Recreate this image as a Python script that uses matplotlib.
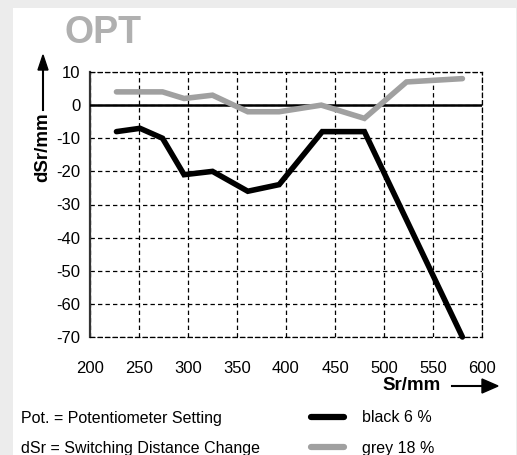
import matplotlib.pyplot as plt
from matplotlib.patches import Rectangle

plt.rcParams['font.family'] = ['Liberation Sans', 'DejaVu Sans']
plt.rcParams['axes.unicode_minus'] = False

sr_black = [227, 251, 274, 296, 325, 361, 393, 437, 480, 580]
dsr_black = [-8, -7, -10, -21, -20, -26, -24, -8, -8, -70]
sr_grey = [227, 251, 274, 296, 325, 361, 393, 436, 480, 523, 580]
dsr_grey = [4, 4, 4, 2, 3, -2, -2, 0, -4, 7, 8]

x_ticks = [200, 250, 300, 350, 400, 450, 500, 550, 600]
y_ticks = [10, 0, -10, -20, -30, -40, -50, -60, -70]

W, H = 517, 455


def fx(px):
    return px / W


def fy(py):
    return 1 - py / H


fig = plt.figure(figsize=(W / 100, H / 100), dpi=100)
fig.patch.set_facecolor('#ececec')
fig.patches.append(Rectangle((fx(13), 0), fx(503), 447 / H,
                             transform=fig.transFigure, facecolor='white',
                             edgecolor='none', zorder=0))

ax = fig.add_axes([fx(90), fy(337), fx(392), 265 / H])
ax.set_zorder(2)
ax.patch.set_alpha(0)
ax.set_xlim(200, 600)
ax.set_ylim(-70, 10)
ax.set_xticks(x_ticks)
ax.set_yticks(y_ticks)
ax.tick_params(length=0, labelsize=12)
ax.tick_params(axis='y', pad=7)
ax.tick_params(axis='x', pad=17)
ax.grid(True, color='black', linestyle=(0, (3.5, 2.5)), linewidth=0.9)
for s in ['top', 'right', 'bottom']:
    ax.spines[s].set_linestyle((0, (3.5, 2.5)))
    ax.spines[s].set_linewidth(0.9)
ax.spines['left'].set_linewidth(1.6)
ax.spines['left'].set_color('#333333')
ax.axhline(0, color='black', linewidth=1.8, zorder=3)

ax.plot(sr_grey, dsr_grey, color='#a0a0a0', linewidth=4,
        solid_capstyle='round', solid_joinstyle='miter', zorder=4, clip_on=False)
ax.plot(sr_black, dsr_black, color='black', linewidth=4,
        solid_capstyle='round', solid_joinstyle='miter', zorder=5, clip_on=False)

# Titel und Achsenbeschriftungen
fig.text(fx(65), fy(33), 'OPT', fontsize=27, fontweight='bold',
         color='#b0b0b0', va='center', ha='left')
fig.text(fx(43), fy(147), 'dSr/mm', fontsize=13.5, fontweight='bold',
         rotation=90, va='center', ha='center')
fig.add_artist(plt.Line2D([fx(43), fx(43)], [fy(110), fy(68)],
                          color='black', linewidth=1.5, transform=fig.transFigure))
fig.patches.append(plt.Polygon([[fx(38), fy(70)], [fx(48), fy(70)], [fx(43), fy(55)]],
                               closed=True, transform=fig.transFigure, color='black'))
fig.text(fx(412), fy(386), 'Sr/mm', fontsize=13.5, fontweight='bold',
         va='center', ha='center')
fig.add_artist(plt.Line2D([fx(452), fx(484)], [fy(386), fy(386)],
                          color='black', linewidth=1.5, transform=fig.transFigure))
fig.patches.append(plt.Polygon([[fx(482), fy(379)], [fx(482), fy(393)], [fx(498), fy(386)]],
                               closed=True, transform=fig.transFigure, color='black'))

# Legende unten
fig.text(fx(21), fy(418), 'Pot. = Potentiometer Setting', fontsize=11.5,
         va='center', ha='left')
fig.text(fx(21), fy(448), 'dSr = Switching Distance Change', fontsize=11.5,
         va='center', ha='left')
fig.add_artist(plt.Line2D([fx(311), fx(344)], [fy(417), fy(417)],
                          color='black', linewidth=4.5, solid_capstyle='round',
                          transform=fig.transFigure))
fig.add_artist(plt.Line2D([fx(311), fx(344)], [fy(447), fy(447)],
                          color='#a0a0a0', linewidth=4.5, solid_capstyle='round',
                          transform=fig.transFigure))
fig.text(fx(362), fy(418), 'black 6 %', fontsize=11.5, va='center', ha='left')
fig.text(fx(362), fy(448), 'grey 18 %', fontsize=11.5, va='center', ha='left')

fig.savefig('out.png', dpi=100, facecolor=fig.get_facecolor())
